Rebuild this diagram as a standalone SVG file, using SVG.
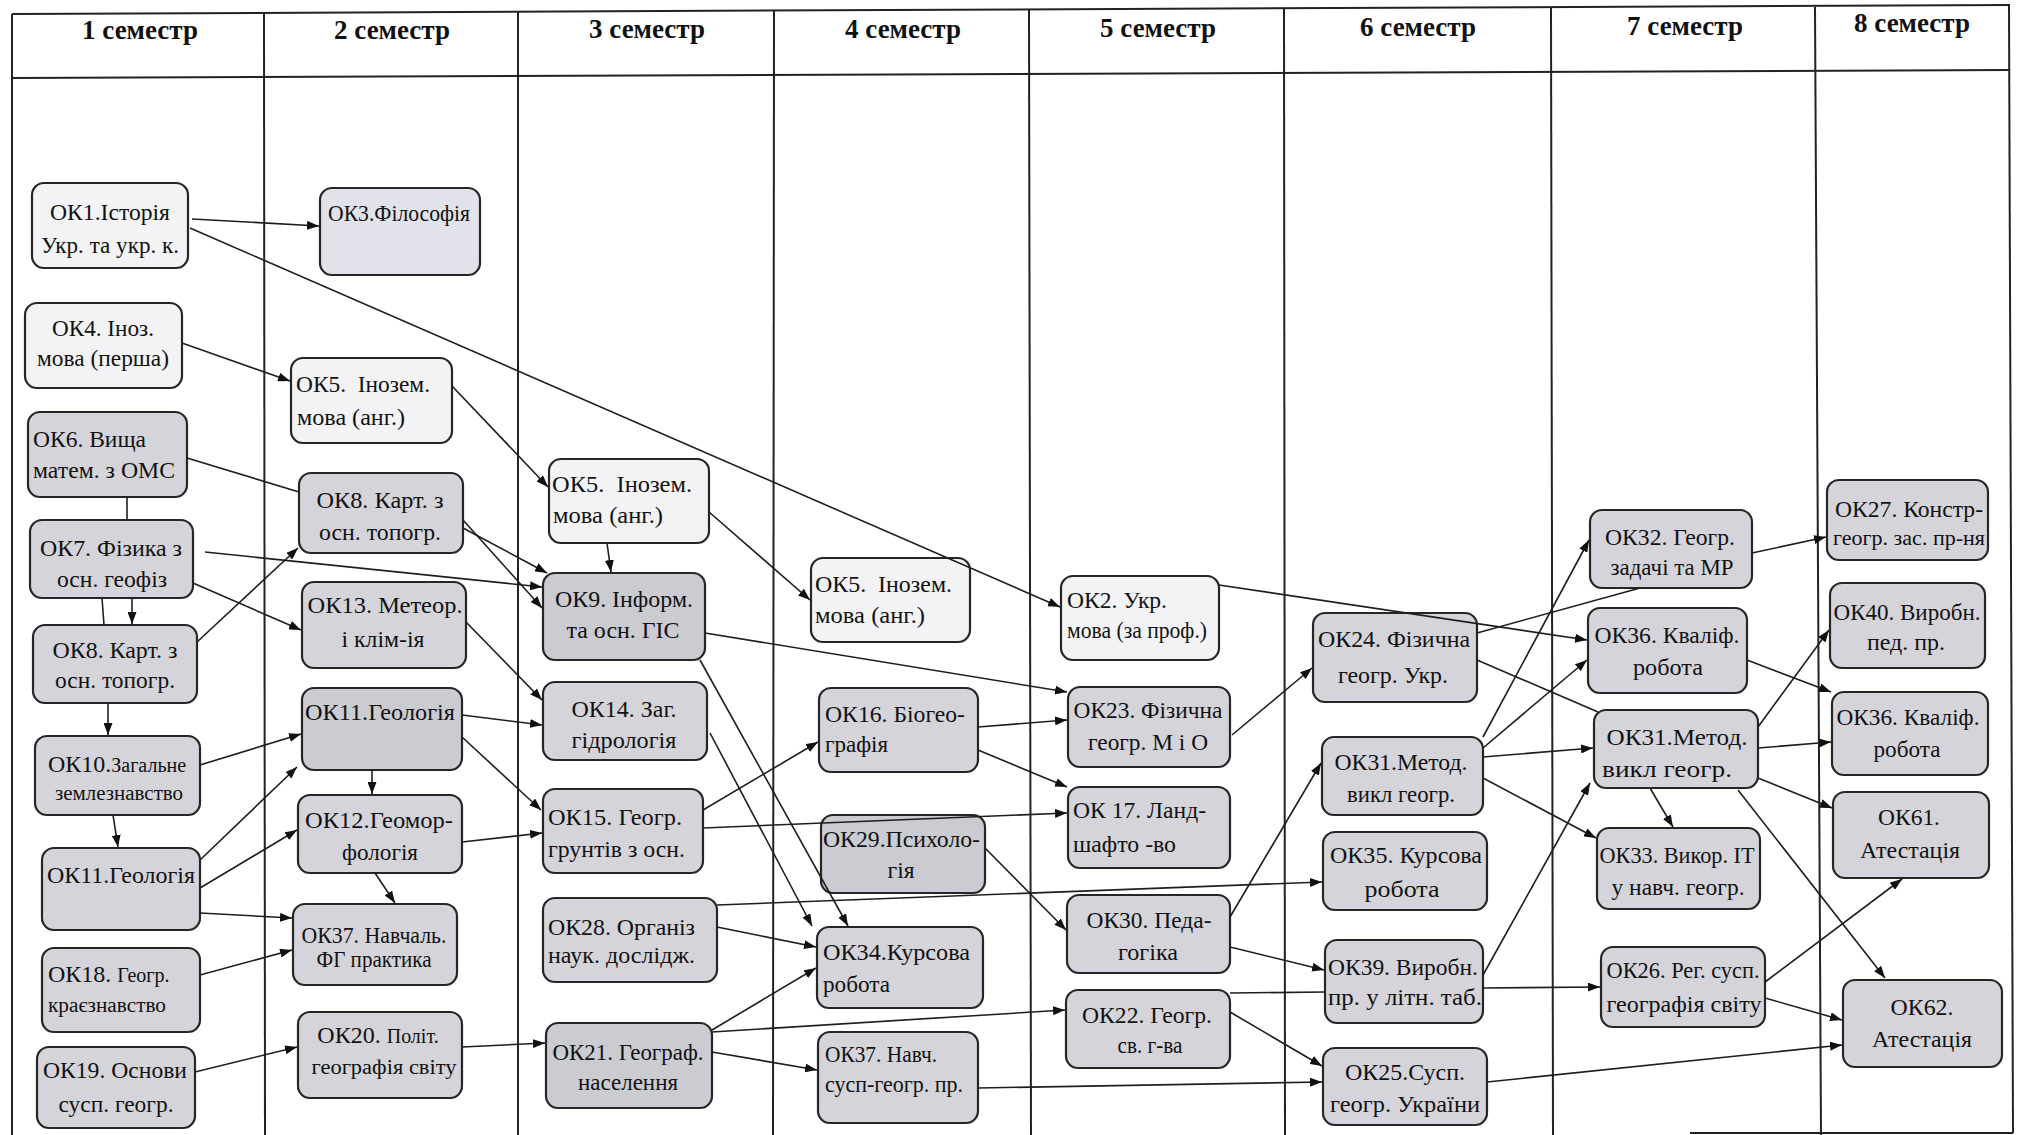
<svg xmlns="http://www.w3.org/2000/svg" width="2032" height="1135" viewBox="0 0 2032 1135">
<defs>
<style>
.grid{stroke:#222;stroke-width:2;fill:none}
.hdr{font-family:"Liberation Serif","Times New Roman",serif;font-weight:bold;font-size:27px;text-anchor:middle;fill:#111}
.box{stroke:#262626;stroke-width:2.2}
.lt{fill:#f3f3f5}
.lv{fill:#e2e2ea}
.gr{fill:#d4d4da}
.dk{fill:#cbcbd2}
.t{font-family:"Liberation Serif","Times New Roman",serif;font-size:24px;fill:#121212}
.c{text-anchor:middle}
.s{font-size:20px}
.ln{stroke:#1e1e1e;stroke-width:1.6;fill:none}
.ar{marker-end:url(#ah)}
</style>
<marker id="ah" viewBox="0 0 12 9" refX="12" refY="4.5" markerWidth="12" markerHeight="9" markerUnits="userSpaceOnUse" orient="auto">
<path d="M0,0 L12,4.5 L0,9 z" fill="#111"/>
</marker>
</defs>
<rect x="0" y="0" width="2032" height="1135" fill="#ffffff"/>

<g id="table">
<line class="grid" x1="12" y1="14" x2="2010" y2="5"/>
<line class="grid" x1="12" y1="78" x2="2010" y2="70"/>
<line class="grid" x1="12" y1="14" x2="12" y2="1135"/>
<line class="grid" x1="264" y1="13" x2="265" y2="1135"/>
<line class="grid" x1="518" y1="12" x2="518" y2="1135"/>
<line class="grid" x1="774" y1="11" x2="773" y2="1135"/>
<line class="grid" x1="1029" y1="10" x2="1031" y2="1135"/>
<line class="grid" x1="1284" y1="9" x2="1285" y2="1135"/>
<line class="grid" x1="1551" y1="8" x2="1553" y2="1135"/>
<line class="grid" x1="1815" y1="7" x2="1821" y2="1135"/>
<line class="grid" x1="2009" y1="5" x2="2013" y2="1133"/>
<line class="grid" x1="1690" y1="1133" x2="2013" y2="1133"/>
<text class="hdr" x="140" y="39">1 семестр</text>
<text class="hdr" x="392" y="39">2 семестр</text>
<text class="hdr" x="647" y="38">3 семестр</text>
<text class="hdr" x="903" y="38">4 семестр</text>
<text class="hdr" x="1158" y="37">5 семестр</text>
<text class="hdr" x="1418" y="36">6 семестр</text>
<text class="hdr" x="1685" y="35">7 семестр</text>
<text class="hdr" x="1912" y="32">8 семестр</text>
</g>

<g id="OK1"><rect class="box lt" x="32" y="183" width="156" height="85" rx="12"/><text class="t c" x="110" y="220" textLength="120" lengthAdjust="spacingAndGlyphs">ОК1.Історія</text><text class="t c" x="110" y="253" textLength="138" lengthAdjust="spacingAndGlyphs">Укр. та укр. к.</text></g>
<g id="OK4"><rect class="box lt" x="25" y="303" width="157" height="85" rx="12"/><text class="t c" x="103" y="336" textLength="102" lengthAdjust="spacingAndGlyphs">ОК4. Іноз.</text><text class="t c" x="103" y="366" textLength="132" lengthAdjust="spacingAndGlyphs">мова (перша)</text></g>
<g id="OK6"><rect class="box gr" x="28" y="412" width="159" height="85" rx="12"/><text class="t" x="33" y="447" textLength="113" lengthAdjust="spacingAndGlyphs">ОК6. Вища</text><text class="t" x="33" y="478" textLength="142" lengthAdjust="spacingAndGlyphs">матем. з ОМС</text></g>
<g id="OK7"><rect class="box gr" x="30" y="520" width="163" height="78" rx="12"/><text class="t c" x="111" y="556" textLength="142" lengthAdjust="spacingAndGlyphs">ОК7. Фізика з</text><text class="t c" x="112" y="587" textLength="110" lengthAdjust="spacingAndGlyphs">осн. геофіз</text></g>
<g id="OK8-1"><rect class="box gr" x="33" y="625" width="164" height="78" rx="12"/><text class="t c" x="115" y="658" textLength="125" lengthAdjust="spacingAndGlyphs">ОК8. Карт. з</text><text class="t c" x="115" y="688" textLength="120" lengthAdjust="spacingAndGlyphs">осн. топогр.</text></g>
<g id="OK10"><rect class="box gr" x="35" y="736" width="165" height="79" rx="12"/><text class="t c" x="117" y="772">ОК10.<tspan class="s">Загальне</tspan></text><text class="t c s" x="119" y="800" textLength="128" lengthAdjust="spacingAndGlyphs">землезнавство</text></g>
<g id="OK11-1"><rect class="box gr" x="42" y="848" width="158" height="82" rx="12"/><text class="t c" x="121" y="883" textLength="148" lengthAdjust="spacingAndGlyphs">ОК11.Геологія</text></g>
<g id="OK18"><rect class="box gr" x="42" y="948" width="158" height="84" rx="12"/><text class="t" x="48" y="982">ОК18. <tspan class="s">Геогр.</tspan></text><text class="t s" x="48" y="1012" textLength="118" lengthAdjust="spacingAndGlyphs">краєзнавство</text></g>
<g id="OK19"><rect class="box gr" x="37" y="1047" width="158" height="81" rx="12"/><text class="t c" x="115" y="1078" textLength="144" lengthAdjust="spacingAndGlyphs">ОК19. Основи</text><text class="t c" x="116" y="1112" textLength="115" lengthAdjust="spacingAndGlyphs">сусп. геогр.</text></g>

<g id="OK3"><rect class="box lv" x="320" y="188" width="160" height="87" rx="12"/><text class="t c" x="399" y="221" textLength="142" lengthAdjust="spacingAndGlyphs">ОК3.Філософія</text></g>
<g id="OK5-2"><rect class="box lt" x="291" y="358" width="161" height="85" rx="12"/><text class="t" x="296" y="392" xml:space="preserve" textLength="134" lengthAdjust="spacingAndGlyphs">ОК5.  Інозем.</text><text class="t" x="297" y="425" textLength="108" lengthAdjust="spacingAndGlyphs">мова (анг.)</text></g>
<g id="OK8-2"><rect class="box gr" x="299" y="473" width="164" height="80" rx="12"/><text class="t c" x="380" y="508" textLength="127" lengthAdjust="spacingAndGlyphs">ОК8. Карт. з</text><text class="t c" x="380" y="540" textLength="122" lengthAdjust="spacingAndGlyphs">осн. топогр.</text></g>
<g id="OK13"><rect class="box gr" x="302" y="582" width="164" height="86" rx="12"/><text class="t c" x="385" y="613" textLength="155" lengthAdjust="spacingAndGlyphs">ОК13. Метеор.</text><text class="t c" x="383" y="647" textLength="83" lengthAdjust="spacingAndGlyphs">і клім-ія</text></g>
<g id="OK11-2"><rect class="box dk" x="302" y="688" width="160" height="82" rx="12"/><text class="t c" x="380" y="720" textLength="150" lengthAdjust="spacingAndGlyphs">ОК11.Геологія</text></g>
<g id="OK12"><rect class="box gr" x="298" y="795" width="164" height="78" rx="12"/><text class="t c" x="379" y="828" textLength="148" lengthAdjust="spacingAndGlyphs">ОК12.Геомор-</text><text class="t c" x="380" y="860" textLength="76" lengthAdjust="spacingAndGlyphs">фологія</text></g>
<g id="OK37-2"><rect class="box gr" x="293" y="904" width="164" height="81" rx="12"/><text class="t c" x="374" y="943" textLength="145" lengthAdjust="spacingAndGlyphs">ОК37. Навчаль.</text><text class="t c" x="374" y="967" textLength="115" lengthAdjust="spacingAndGlyphs">ФГ практика</text></g>
<g id="OK20"><rect class="box gr" x="298" y="1012" width="164" height="86" rx="12"/><text class="t c" x="378" y="1043">ОК20. <tspan class="s">Політ.</tspan></text><text class="t c s" x="384" y="1074" textLength="145" lengthAdjust="spacingAndGlyphs">географія світу</text></g>

<g id="OK5-3"><rect class="box lt" x="549" y="459" width="160" height="84" rx="12"/><text class="t" x="552" y="492" xml:space="preserve" textLength="140" lengthAdjust="spacingAndGlyphs">ОК5.  Інозем.</text><text class="t" x="553" y="523" textLength="110" lengthAdjust="spacingAndGlyphs">мова (анг.)</text></g>
<g id="OK9"><rect class="box dk" x="543" y="573" width="162" height="87" rx="12"/><text class="t c" x="624" y="607" textLength="138" lengthAdjust="spacingAndGlyphs">ОК9. Інформ.</text><text class="t c" x="623" y="638" textLength="113" lengthAdjust="spacingAndGlyphs">та осн. ГІС</text></g>
<g id="OK14"><rect class="box gr" x="543" y="682" width="164" height="78" rx="12"/><text class="t c" x="624" y="717" textLength="105" lengthAdjust="spacingAndGlyphs">ОК14. Заг.</text><text class="t c" x="624" y="748" textLength="105" lengthAdjust="spacingAndGlyphs">гідрологія</text></g>
<g id="OK15"><rect class="box gr" x="543" y="789" width="160" height="84" rx="12"/><text class="t" x="548" y="825" textLength="134" lengthAdjust="spacingAndGlyphs">ОК15. Геогр.</text><text class="t" x="548" y="857" textLength="137" lengthAdjust="spacingAndGlyphs">грунтів з осн.</text></g>
<g id="OK28"><rect class="box gr" x="543" y="898" width="174" height="84" rx="12"/><text class="t" x="548" y="935" textLength="147" lengthAdjust="spacingAndGlyphs">ОК28. Організ</text><text class="t" x="548" y="963" textLength="147" lengthAdjust="spacingAndGlyphs">наук. дослідж.</text></g>
<g id="OK21"><rect class="box dk" x="546" y="1023" width="166" height="85" rx="12"/><text class="t c" x="628" y="1060" textLength="151" lengthAdjust="spacingAndGlyphs">ОК21. Географ.</text><text class="t c" x="628" y="1090" textLength="100" lengthAdjust="spacingAndGlyphs">населення</text></g>

<g id="OK5-4"><rect class="box lt" x="811" y="558" width="159" height="84" rx="12"/><text class="t" x="815" y="592" xml:space="preserve" textLength="137" lengthAdjust="spacingAndGlyphs">ОК5.  Інозем.</text><text class="t" x="815" y="623" textLength="110" lengthAdjust="spacingAndGlyphs">мова (анг.)</text></g>
<g id="OK16"><rect class="box gr" x="819" y="688" width="159" height="84" rx="12"/><text class="t" x="825" y="722" textLength="140" lengthAdjust="spacingAndGlyphs">ОК16. Біогео-</text><text class="t" x="825" y="752" textLength="63" lengthAdjust="spacingAndGlyphs">графія</text></g>
<g id="OK29"><rect class="box dk" x="821" y="815" width="164" height="78" rx="12"/><text class="t" x="823" y="847" textLength="157" lengthAdjust="spacingAndGlyphs">ОК29.Психоло-</text><text class="t c" x="901" y="878" textLength="27" lengthAdjust="spacingAndGlyphs">гія</text></g>
<g id="OK34"><rect class="box gr" x="817" y="927" width="166" height="81" rx="12"/><text class="t" x="823" y="960" textLength="147" lengthAdjust="spacingAndGlyphs">ОК34.Курсова</text><text class="t" x="823" y="992" textLength="67" lengthAdjust="spacingAndGlyphs">робота</text></g>
<g id="OK37-4"><rect class="box gr" x="818" y="1032" width="160" height="91" rx="12"/><text class="t" x="825" y="1062" textLength="112" lengthAdjust="spacingAndGlyphs">ОК37. Навч.</text><text class="t" x="825" y="1092" textLength="138" lengthAdjust="spacingAndGlyphs">сусп-геогр. пр.</text></g>

<g id="OK2"><rect class="box lt" x="1061" y="576" width="158" height="84" rx="12"/><text class="t" x="1067" y="608" textLength="100" lengthAdjust="spacingAndGlyphs">ОК2. Укр.</text><text class="t" x="1067" y="638" textLength="140" lengthAdjust="spacingAndGlyphs">мова (за проф.)</text></g>
<g id="OK23"><rect class="box gr" x="1068" y="687" width="162" height="80" rx="12"/><text class="t c" x="1148" y="718" textLength="149" lengthAdjust="spacingAndGlyphs">ОК23. Фізична</text><text class="t c" x="1148" y="750" textLength="120" lengthAdjust="spacingAndGlyphs">геогр. М і О</text></g>
<g id="OK17"><rect class="box gr" x="1068" y="787" width="162" height="81" rx="12"/><text class="t" x="1073" y="818" textLength="133" lengthAdjust="spacingAndGlyphs">ОК 17. Ланд-</text><text class="t" x="1073" y="852" textLength="103" lengthAdjust="spacingAndGlyphs">шафто -во</text></g>
<g id="OK30"><rect class="box gr" x="1067" y="895" width="163" height="78" rx="12"/><text class="t c" x="1149" y="928" textLength="125" lengthAdjust="spacingAndGlyphs">ОК30. Педа-</text><text class="t c" x="1148" y="960" textLength="60" lengthAdjust="spacingAndGlyphs">гогіка</text></g>
<g id="OK22"><rect class="box gr" x="1066" y="990" width="164" height="78" rx="12"/><text class="t c" x="1147" y="1023" textLength="130" lengthAdjust="spacingAndGlyphs">ОК22. Геогр.</text><text class="t c" x="1150" y="1053" textLength="65" lengthAdjust="spacingAndGlyphs">св. г-ва</text></g>

<g id="OK24"><rect class="box gr" x="1313" y="613" width="164" height="89" rx="12"/><text class="t c" x="1394" y="647" textLength="152" lengthAdjust="spacingAndGlyphs">ОК24. Фізична</text><text class="t c" x="1393" y="683" textLength="110" lengthAdjust="spacingAndGlyphs">геогр. Укр.</text></g>
<g id="OK31-6"><rect class="box gr" x="1322" y="737" width="161" height="78" rx="12"/><text class="t c" x="1401" y="770" textLength="133" lengthAdjust="spacingAndGlyphs">ОК31.Метод.</text><text class="t c" x="1401" y="802" textLength="108" lengthAdjust="spacingAndGlyphs">викл геогр.</text></g>
<g id="OK35"><rect class="box gr" x="1323" y="832" width="164" height="78" rx="12"/><text class="t c" x="1406" y="863" textLength="152" lengthAdjust="spacingAndGlyphs">ОК35. Курсова</text><text class="t c" x="1402" y="897" textLength="75" lengthAdjust="spacingAndGlyphs">робота</text></g>
<g id="OK39"><rect class="box gr" x="1325" y="940" width="158" height="83" rx="12"/><text class="t c" x="1403" y="975" textLength="150" lengthAdjust="spacingAndGlyphs">ОК39. Виробн.</text><text class="t c" x="1405" y="1005" textLength="154" lengthAdjust="spacingAndGlyphs">пр. у літн. таб.</text></g>
<g id="OK25"><rect class="box gr" x="1323" y="1048" width="164" height="77" rx="12"/><text class="t c" x="1405" y="1080" textLength="120" lengthAdjust="spacingAndGlyphs">ОК25.Сусп.</text><text class="t c" x="1405" y="1112" textLength="150" lengthAdjust="spacingAndGlyphs">геогр. України</text></g>

<g id="OK32"><rect class="box gr" x="1590" y="510" width="162" height="78" rx="12"/><text class="t c" x="1670" y="545" textLength="130" lengthAdjust="spacingAndGlyphs">ОК32. Геогр.</text><text class="t c" x="1672" y="575" textLength="123" lengthAdjust="spacingAndGlyphs">задачі та МР</text></g>
<g id="OK36-7"><rect class="box gr" x="1588" y="608" width="159" height="85" rx="12"/><text class="t c" x="1667" y="643" textLength="145" lengthAdjust="spacingAndGlyphs">ОК36. Кваліф.</text><text class="t c" x="1668" y="675" textLength="70" lengthAdjust="spacingAndGlyphs">робота</text></g>
<g id="OK31-7"><rect class="box gr" x="1594" y="710" width="164" height="78" rx="12"/><text class="t c" x="1677" y="745" textLength="141" lengthAdjust="spacingAndGlyphs">ОК31.Метод.</text><text class="t c" x="1667" y="777" textLength="130" lengthAdjust="spacingAndGlyphs">викл геогр.</text></g>
<g id="OK33"><rect class="box gr" x="1597" y="828" width="163" height="81" rx="12"/><text class="t c" x="1677" y="863" textLength="155" lengthAdjust="spacingAndGlyphs">ОК33. Викор. ІТ</text><text class="t c" x="1678" y="895" textLength="133" lengthAdjust="spacingAndGlyphs">у навч. геогр.</text></g>
<g id="OK26"><rect class="box gr" x="1601" y="947" width="164" height="80" rx="12"/><text class="t c" x="1683" y="978" textLength="153" lengthAdjust="spacingAndGlyphs">ОК26. Рег. сусп.</text><text class="t c" x="1684" y="1012" textLength="155" lengthAdjust="spacingAndGlyphs">географія світу</text></g>

<g id="OK27"><rect class="box gr" x="1827" y="480" width="161" height="80" rx="12"/><text class="t c" x="1909" y="517" textLength="148" lengthAdjust="spacingAndGlyphs">ОК27. Констр-</text><text class="t c s" x="1909" y="545" textLength="152" lengthAdjust="spacingAndGlyphs">геогр. зас. пр-ня</text></g>
<g id="OK40"><rect class="box gr" x="1830" y="583" width="155" height="85" rx="12"/><text class="t c" x="1907" y="620" textLength="147" lengthAdjust="spacingAndGlyphs">ОК40. Виробн.</text><text class="t c" x="1906" y="650" textLength="78" lengthAdjust="spacingAndGlyphs">пед. пр.</text></g>
<g id="OK36-8"><rect class="box gr" x="1832" y="692" width="156" height="83" rx="12"/><text class="t c" x="1908" y="725" textLength="143" lengthAdjust="spacingAndGlyphs">ОК36. Кваліф.</text><text class="t c" x="1907" y="757" textLength="67" lengthAdjust="spacingAndGlyphs">робота</text></g>
<g id="OK61"><rect class="box gr" x="1833" y="792" width="156" height="86" rx="12"/><text class="t c" x="1909" y="825" textLength="62" lengthAdjust="spacingAndGlyphs">ОК61.</text><text class="t c" x="1910" y="858" textLength="100" lengthAdjust="spacingAndGlyphs">Атестація</text></g>
<g id="OK62"><rect class="box gr" x="1843" y="980" width="159" height="87" rx="12"/><text class="t c" x="1922" y="1015" textLength="63" lengthAdjust="spacingAndGlyphs">ОК62.</text><text class="t c" x="1922" y="1047" textLength="100" lengthAdjust="spacingAndGlyphs">Атестація</text></g>

<g id="connectors">
<line class="ln ar" x1="192" y1="219" x2="319" y2="226"/>
<line class="ln ar" x1="190" y1="228" x2="1060" y2="607"/>
<line class="ln ar" x1="182" y1="343" x2="290" y2="381"/>
<line class="ln ar" x1="452" y1="386" x2="548" y2="487"/>
<line class="ln" x1="187" y1="458" x2="299" y2="492"/>
<line class="ln" x1="127" y1="497" x2="127" y2="520"/>
<line class="ln" x1="102" y1="598" x2="104" y2="625"/>
<line class="ln ar" x1="132" y1="599" x2="132" y2="624"/>
<line class="ln ar" x1="205" y1="552" x2="542" y2="587"/>
<line class="ln ar" x1="193" y1="583" x2="301" y2="630"/>
<line class="ln ar" x1="197" y1="642" x2="298" y2="548"/>
<line class="ln ar" x1="108" y1="703" x2="108" y2="735"/>
<line class="ln ar" x1="113" y1="815" x2="118" y2="847"/>
<line class="ln ar" x1="200" y1="765" x2="301" y2="734"/>
<line class="ln ar" x1="200" y1="860" x2="297" y2="767"/>
<line class="ln ar" x1="200" y1="888" x2="297" y2="830"/>
<line class="ln ar" x1="200" y1="913" x2="292" y2="918"/>
<line class="ln ar" x1="200" y1="975" x2="292" y2="950"/>
<line class="ln ar" x1="195" y1="1072" x2="297" y2="1047"/>
<line class="ln ar" x1="372" y1="770" x2="372" y2="794"/>
<line class="ln ar" x1="375" y1="873" x2="395" y2="903"/>
<line class="ln ar" x1="462" y1="842" x2="542" y2="833"/>
<line class="ln ar" x1="462" y1="715" x2="542" y2="725"/>
<line class="ln ar" x1="462" y1="737" x2="541" y2="810"/>
<line class="ln ar" x1="466" y1="622" x2="542" y2="700"/>
<line class="ln ar" x1="463" y1="528" x2="547" y2="573"/>
<line class="ln ar" x1="463" y1="520" x2="542" y2="608"/>
<line class="ln ar" x1="607" y1="543" x2="611" y2="572"/>
<line class="ln ar" x1="709" y1="512" x2="810" y2="600"/>
<line class="ln ar" x1="705" y1="633" x2="1067" y2="692"/>
<line class="ln ar" x1="700" y1="660" x2="848" y2="926"/>
<line class="ln ar" x1="710" y1="733" x2="812" y2="926"/>
<line class="ln ar" x1="703" y1="810" x2="818" y2="742"/>
<line class="ln ar" x1="703" y1="828" x2="1067" y2="813"/>
<line class="ln ar" x1="978" y1="727" x2="1067" y2="720"/>
<line class="ln ar" x1="978" y1="750" x2="1067" y2="787"/>
<line class="ln ar" x1="985" y1="848" x2="1066" y2="930"/>
<line class="ln ar" x1="717" y1="905" x2="1322" y2="882"/>
<line class="ln ar" x1="717" y1="927" x2="816" y2="947"/>
<line class="ln ar" x1="712" y1="1030" x2="816" y2="968"/>
<line class="ln ar" x1="712" y1="1032" x2="1065" y2="1010"/>
<line class="ln ar" x1="712" y1="1052" x2="817" y2="1070"/>
<line class="ln ar" x1="462" y1="1047" x2="545" y2="1043"/>
<line class="ln ar" x1="978" y1="1088" x2="1322" y2="1082"/>
<line class="ln ar" x1="1230" y1="1012" x2="1322" y2="1066"/>
<line class="ln" x1="1230" y1="993" x2="1325" y2="992"/>
<line class="ln ar" x1="1483" y1="988" x2="1600" y2="987"/>
<line class="ln ar" x1="1230" y1="917" x2="1321" y2="763"/>
<line class="ln ar" x1="1230" y1="947" x2="1324" y2="970"/>
<line class="ln ar" x1="1232" y1="735" x2="1312" y2="668"/>
<line class="ln ar" x1="1219" y1="585" x2="1587" y2="640"/>
<line class="ln" x1="1477" y1="633" x2="1640" y2="588"/>
<line class="ln" x1="1477" y1="660" x2="1598" y2="712"/>
<line class="ln ar" x1="1483" y1="737" x2="1589" y2="540"/>
<line class="ln ar" x1="1483" y1="748" x2="1587" y2="660"/>
<line class="ln ar" x1="1483" y1="757" x2="1593" y2="748"/>
<line class="ln ar" x1="1483" y1="778" x2="1596" y2="838"/>
<line class="ln ar" x1="1483" y1="975" x2="1590" y2="783"/>
<line class="ln ar" x1="1752" y1="553" x2="1826" y2="537"/>
<line class="ln ar" x1="1747" y1="660" x2="1831" y2="692"/>
<line class="ln ar" x1="1758" y1="727" x2="1829" y2="630"/>
<line class="ln ar" x1="1758" y1="748" x2="1831" y2="742"/>
<line class="ln ar" x1="1758" y1="778" x2="1832" y2="808"/>
<line class="ln ar" x1="1650" y1="788" x2="1673" y2="827"/>
<line class="ln ar" x1="1738" y1="790" x2="1885" y2="978"/>
<line class="ln ar" x1="1765" y1="982" x2="1902" y2="879"/>
<line class="ln ar" x1="1765" y1="998" x2="1842" y2="1020"/>
<line class="ln ar" x1="1487" y1="1082" x2="1842" y2="1045"/>
</g>
</svg>
